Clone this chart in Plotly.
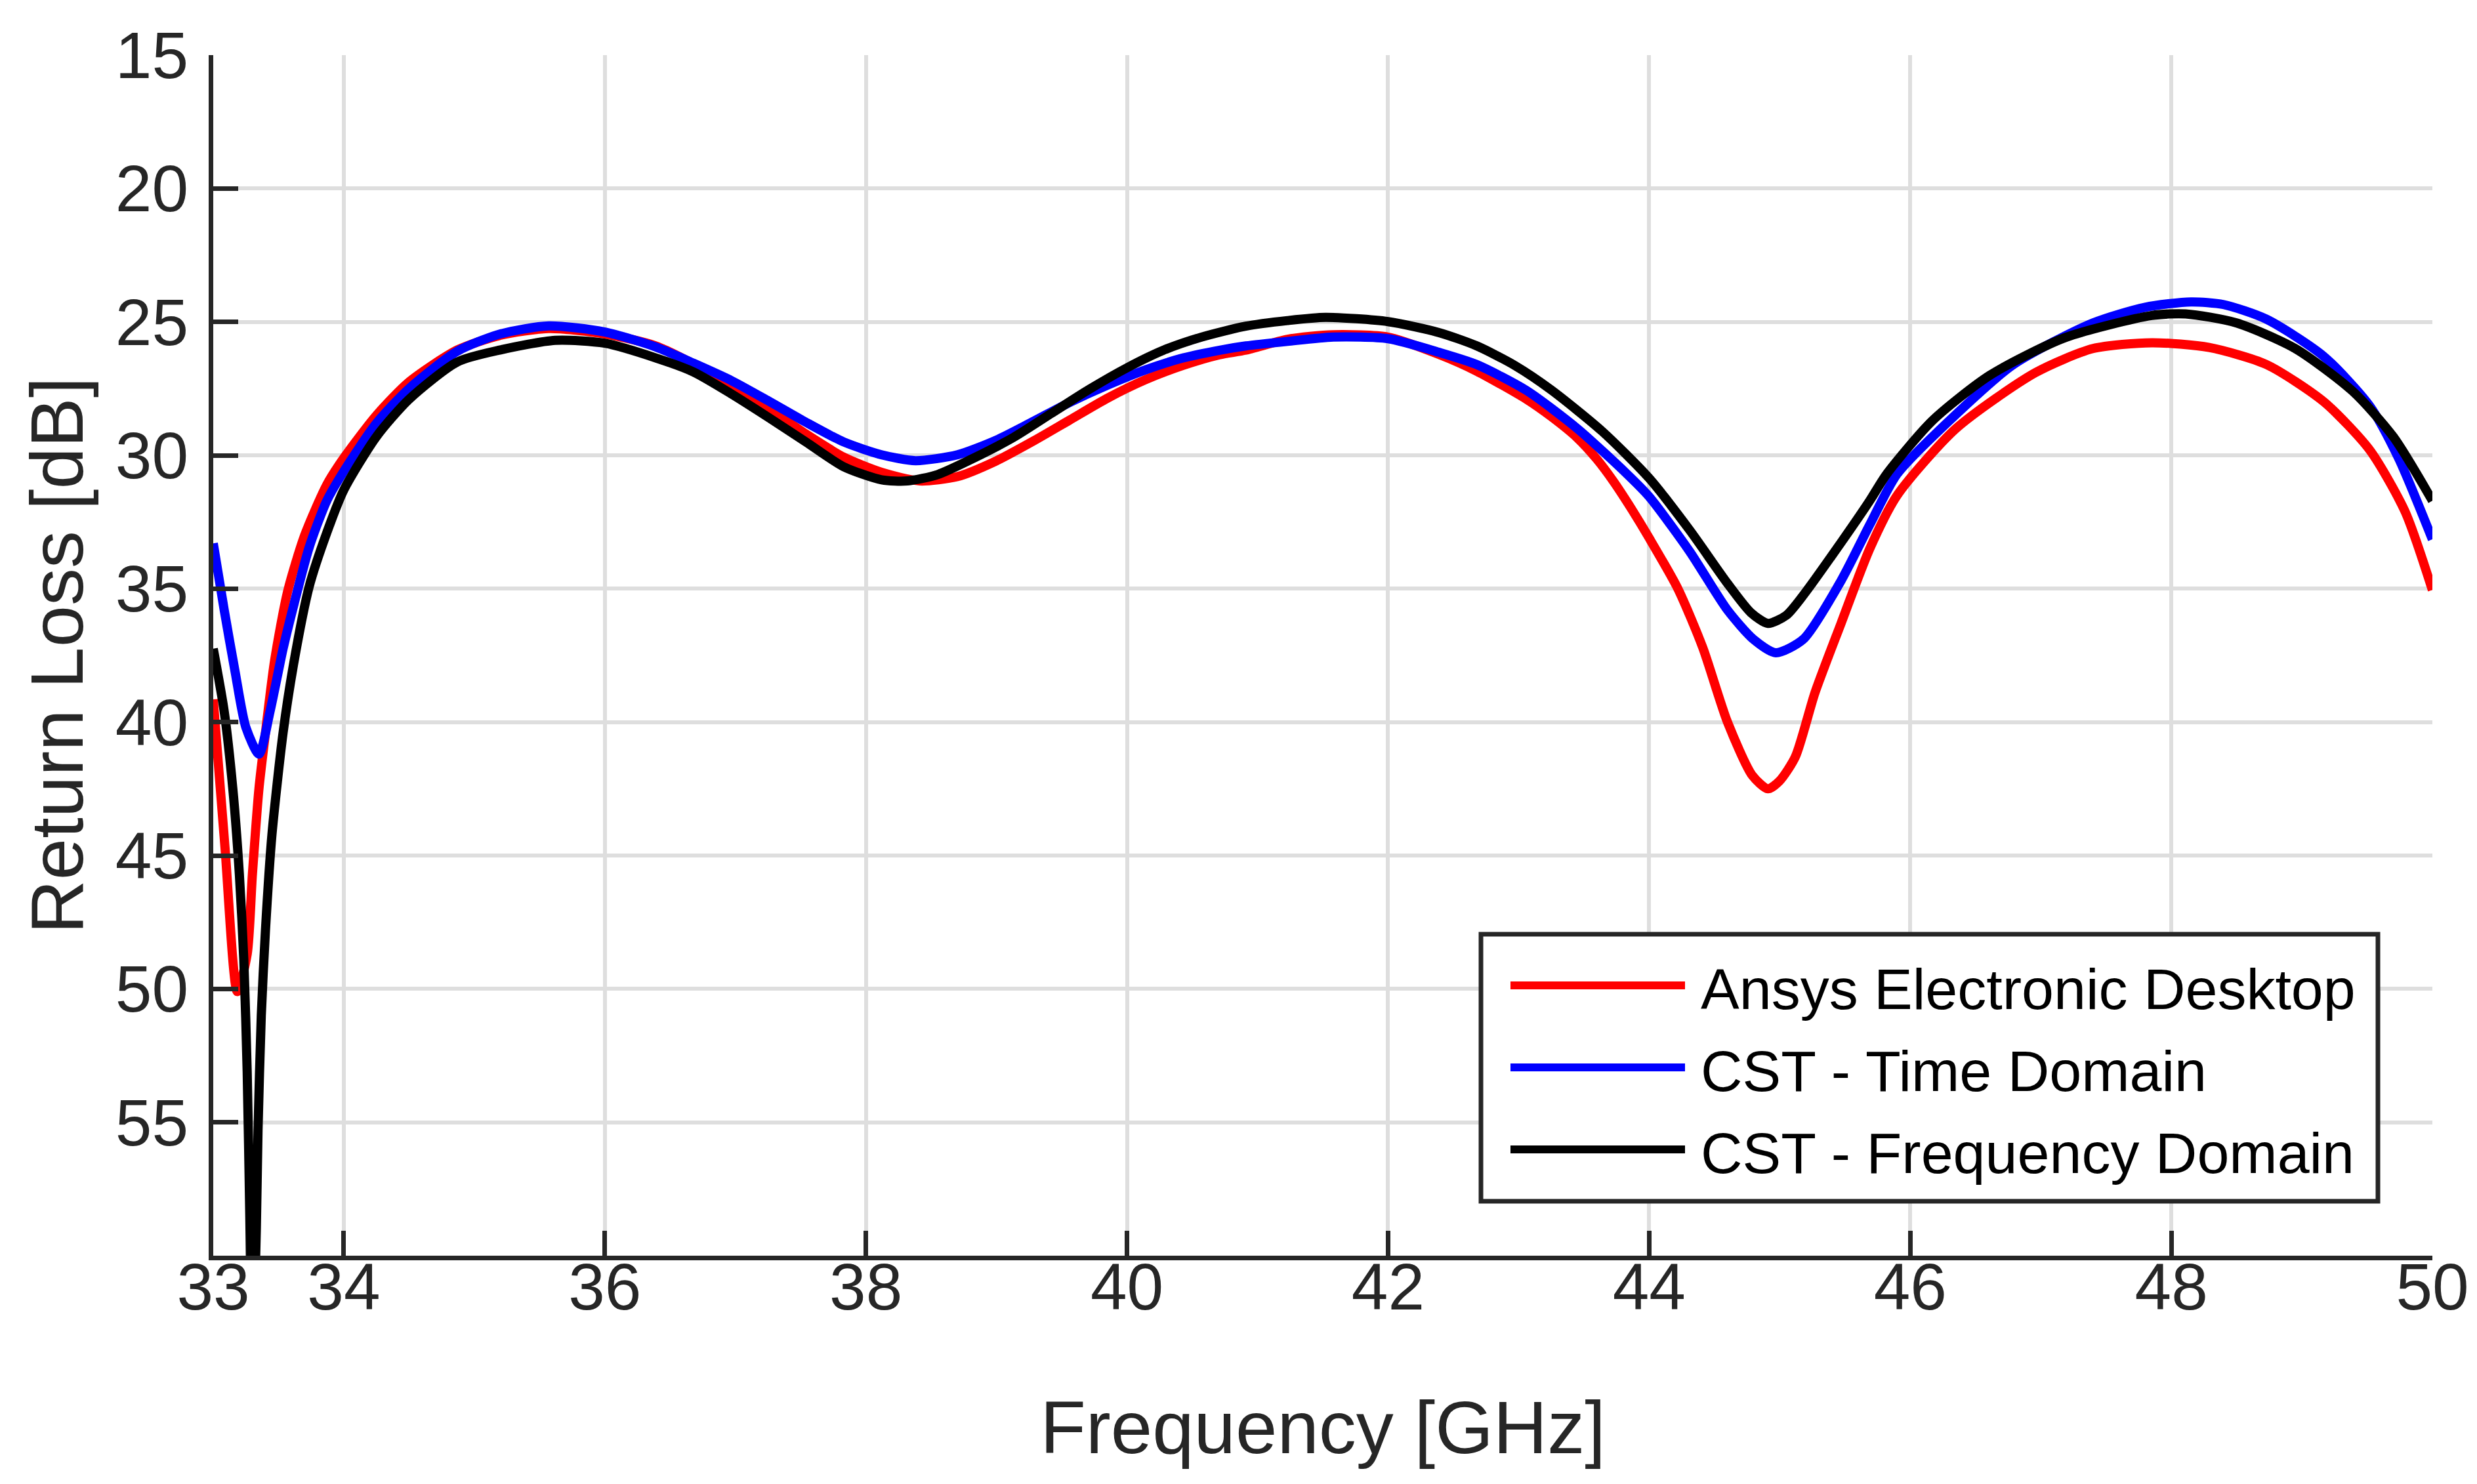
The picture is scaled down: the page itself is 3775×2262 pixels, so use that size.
import plotly.graph_objects as go

# ---------------- data ----------------
series_names = ["Ansys Electronic Desktop", "CST - Time Domain", "CST - Frequency Domain"]
series_colors = ["#ff0000", "#0000ff", "#000000"]

freq_ansys = [33.0, 33.09, 33.184, 33.26, 33.3, 33.35, 33.4, 33.47, 33.57, 33.7, 33.87, 34.0,
              34.25, 34.5, 34.87, 35.2, 35.57, 36.0, 36.39, 36.8, 37.26, 37.54, 37.83, 38.12,
              38.41, 38.7, 38.99, 39.27, 39.56, 39.85, 40.14, 40.43, 40.71, 40.91, 41.23, 41.58,
              42.0, 42.39, 42.68, 43.06, 43.25, 43.45, 43.6, 43.73, 43.87, 44.0, 44.22, 44.41,
              44.6, 44.79, 44.91, 45.0, 45.12, 45.27, 45.47, 45.69, 45.9, 46.35, 46.96, 47.4,
              47.85, 48.29, 48.73, 49.17, 49.52, 49.79, 50.0]
rl_ansys = [39.15, 44.7, 50.1, 48.7, 45.7, 42.5, 40.4, 37.7, 35.1, 33.0, 31.1, 30.1,
            28.5, 27.25, 26.05, 25.5, 25.25, 25.45, 25.9, 26.9, 28.27, 29.2, 30.07, 30.64,
            30.96, 30.8, 30.23, 29.5, 28.68, 27.86, 27.17, 26.63, 26.23, 26.06, 25.65, 25.48,
            25.57, 26.22, 26.85, 27.9, 28.55, 29.35, 30.15, 31.0, 32.05, 33.1, 35.0, 37.2,
            40.0, 42.0, 42.5, 42.2, 41.3, 38.9, 36.3, 33.5, 31.5, 29.0, 26.9, 26.0,
            25.78, 25.96, 26.6, 28.0, 29.8, 32.1, 35.05]

freq_cst_td = [33.0, 33.084, 33.167, 33.25, 33.35, 33.435, 33.535, 33.62, 33.736, 33.87, 34.0,
               34.25, 34.5, 34.87, 35.2, 35.57, 36.0, 36.39, 36.68, 36.97, 37.26, 37.54, 37.83,
               38.12, 38.38, 38.7, 38.99, 39.27, 39.56, 39.85, 40.14, 40.43, 40.71, 40.91, 41.23,
               41.58, 42.0, 42.39, 42.68, 43.06, 43.45, 43.83, 44.0, 44.31, 44.6, 44.8,
               44.97, 45.18, 45.47, 45.69, 45.9, 46.3, 46.79, 47.4, 47.8, 48.15, 48.4, 48.73,
               49.17, 49.52, 49.74, 50.0]
rl_cst_td = [33.3, 35.8, 38.1, 40.2, 41.2, 39.6, 37.25, 35.55, 33.43, 31.7, 30.6,
             28.8, 27.5, 26.1, 25.45, 25.15, 25.38, 25.94, 26.55, 27.2, 27.98, 28.76, 29.5,
             29.98, 30.2, 29.98, 29.45, 28.76, 28.02, 27.37, 26.8, 26.35, 26.06, 25.9, 25.73,
             25.57, 25.63, 26.14, 26.6, 27.57, 29.0, 30.7, 31.55, 33.6, 35.8, 36.9,
             37.4, 36.9, 34.7, 32.6, 30.7, 28.7, 26.6, 25.04, 24.45, 24.25, 24.35, 24.9,
             26.3, 28.15, 30.1, 33.15]

freq_cst_fd = [33.0, 33.084, 33.15, 33.2, 33.234, 33.26, 33.28, 33.30, 33.33, 33.343, 33.368,
               33.4, 33.45, 33.535, 33.62, 33.736, 33.87, 34.0, 34.25, 34.5, 34.87, 35.2, 35.62,
               36.0, 36.39, 36.68, 36.97, 37.26, 37.54, 37.83, 38.12, 38.32, 38.55, 38.84, 39.13,
               39.42, 39.71, 40.0, 40.28, 40.57, 40.91, 41.23, 41.52, 42.0, 42.39, 42.68, 42.97,
               43.25, 43.64, 44.0, 44.31, 44.6, 44.78, 44.91, 45.05, 45.18, 45.47, 45.69,
               45.82, 46.17, 46.61, 47.18, 47.85, 48.11, 48.5, 48.95, 49.39, 49.7, 50.0]
rl_cst_fd = [37.25, 39.6, 42.5, 45.7, 48.9, 53.1, 58.5, 64.0, 59.0, 55.3, 51.0,
             47.8, 44.2, 40.4, 37.7, 34.9, 32.9, 31.3, 29.3, 27.9, 26.5, 26.05, 25.69,
             25.8, 26.35, 26.88, 27.7, 28.6, 29.5, 30.43, 30.92, 30.96, 30.72, 30.07, 29.33,
             28.43, 27.53, 26.72, 26.06, 25.57, 25.16, 24.95, 24.83, 24.99, 25.4, 25.9, 26.63,
             27.55, 29.1, 30.86, 32.8, 34.8, 35.9, 36.3, 36.0, 35.25, 33.27, 31.7,
             30.7, 28.7, 27.0, 25.6, 24.76, 24.7, 25.04, 26.0, 27.6, 29.3, 31.7]

x_tick_vals = [33, 34, 36, 38, 40, 42, 44, 46, 48, 50]
y_tick_vals = [15, 20, 25, 30, 35, 40, 45, 50, 55]
x_range = [33, 50]
y_range = [60, 15]

x_title = "Frequency [GHz]"
y_title = "Return Loss [dB]"

# ---------------- figure ----------------
FONT = "Liberation Sans, Arial, Helvetica, sans-serif"
TXT = "#262626"
W, H = 3775, 2262
ML, MR, MT, MB = 325, 68, 84, 348
PW, PH = W - ML - MR, H - MT - MB


def px(xp):
    return (xp - ML) / PW


def py(yp):
    return (H - MB - yp) / PH


fig = go.Figure()
for name, color, f, v in [
    (series_names[0], series_colors[0], freq_ansys, rl_ansys),
    (series_names[1], series_colors[1], freq_cst_td, rl_cst_td),
    (series_names[2], series_colors[2], freq_cst_fd, rl_cst_fd),
]:
    fig.add_trace(go.Scatter(
        x=f, y=v, mode="lines", name=name,
        line=dict(color=color, width=14, shape="spline", smoothing=0.7),
        showlegend=False,
    ))

axis_common = dict(
    showline=True, linecolor=TXT, linewidth=7, mirror=False,
    ticks="inside", ticklen=38, tickwidth=7, tickcolor=TXT,
    showgrid=True, gridcolor="#dedede", gridwidth=6,
    zeroline=False,
    tickfont=dict(family=FONT, size=100, color=TXT),
    title_font=dict(family=FONT, size=114, color=TXT),
)

fig.update_xaxes(range=x_range, tickvals=x_tick_vals, ticktext=[str(t) for t in x_tick_vals],
                 title_text=x_title, title_standoff=122, ticklabelstandoff=-45, **axis_common)
fig.update_yaxes(range=y_range, tickvals=y_tick_vals, ticktext=[str(t) for t in y_tick_vals],
                 title_text=y_title, title_standoff=13, ticklabelstandoff=11, **axis_common)

# ---------------- legend drawn MATLAB-style ----------------
shapes = [dict(type="rect", xref="paper", yref="paper",
               x0=px(2257), x1=px(3624), y0=py(1831), y1=py(1424),
               line=dict(color=TXT, width=7), fillcolor="white", layer="above")]
annotations = []
legend_rows_y = [1502, 1627, 1752]
for name, color, yy in zip(series_names, series_colors, legend_rows_y):
    shapes.append(dict(type="line", xref="paper", yref="paper",
                       x0=px(2302), x1=px(2568), y0=py(yy), y1=py(yy),
                       line=dict(color=color, width=12), layer="above"))
    annotations.append(dict(xref="paper", yref="paper", x=px(2590), y=py(yy),
                            xanchor="left", yanchor="middle", text=name, showarrow=False,
                            yshift=-5,
                            font=dict(family=FONT, size=88, color="#000000")))

fig.update_layout(
    width=W, height=H,
    margin=dict(l=ML, r=MR, t=MT, b=MB, autoexpand=False),
    paper_bgcolor="white", plot_bgcolor="white",
    shapes=shapes, annotations=annotations,
    showlegend=False,
)

fig.write_html("out.html", config={"displayModeBar": False},
               post_script="document.body.style.margin='0';document.body.style.overflow='hidden';")
